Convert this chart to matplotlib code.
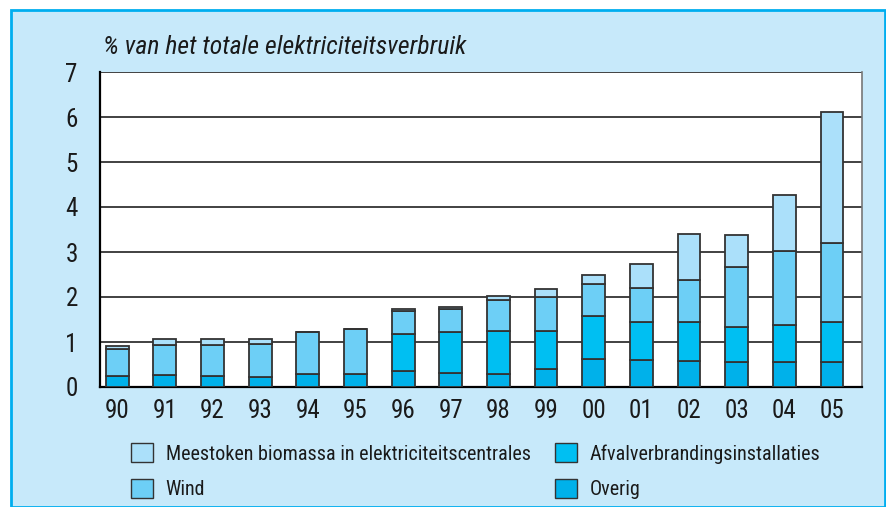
import numpy as np
import matplotlib.pyplot as plt
from matplotlib import font_manager
from matplotlib.patches import Rectangle, Patch

# Aandeel duurzame elektriciteit, % van het totale elektriciteitsverbruik
years = ['90', '91', '92', '93', '94', '95', '96', '97',
         '98', '99', '00', '01', '02', '03', '04', '05']
overig = [0.25, 0.27, 0.25, 0.22, 0.30, 0.30, 0.35, 0.32,
          0.29, 0.40, 0.62, 0.60, 0.58, 0.56, 0.56, 0.56]
afval = [0.00, 0.00, 0.00, 0.00, 0.00, 0.00, 0.83, 0.90,
         0.95, 0.84, 0.95, 0.85, 0.86, 0.77, 0.82, 0.88]
wind = [0.59, 0.67, 0.68, 0.73, 0.92, 1.00, 0.51, 0.51,
        0.70, 0.75, 0.73, 0.74, 0.94, 1.34, 1.65, 1.75]
biomassa = [0.08, 0.12, 0.14, 0.12, 0.00, 0.00, 0.04, 0.04,
            0.09, 0.18, 0.20, 0.54, 1.03, 0.71, 1.24, 2.93]

labels = ['Meestoken biomassa in elektriciteitscentrales', 'Wind',
          'Afvalverbrandingsinstallaties', 'Overig']
colors = {'overig': '#00b1ea', 'afval': '#00bff2',
          'wind': '#6dcff6', 'bio': '#abe0fa'}
bg = '#c7e9fa'

available = {f.name for f in font_manager.fontManager.ttflist}
font = 'DejaVu Sans'
for name in ['Roboto Condensed', 'Liberation Sans Narrow', 'Open Sans Condensed', 'DejaVu Sans Condensed']:
    if name in available:
        font = name
        break
plt.rcParams['font.family'] = [font, 'DejaVu Sans']

fig = plt.figure(figsize=(8.87, 5.07), dpi=100)
fig.patch.set_facecolor('white')
# lichtblauw paneel met blauwe rand
fig.add_artist(Rectangle((11 / 887, 0), 874 / 887, 497 / 507, transform=fig.transFigure,
                         facecolor=bg, edgecolor='#00aeef', lw=2, zorder=0))

ax = fig.add_axes([100 / 887, 120 / 507, 762 / 887, 315 / 507])
ax.set_facecolor('white')

x = np.arange(len(years))
w = 0.48
b1 = np.array(overig)
b2 = b1 + np.array(afval)
b3 = b2 + np.array(wind)
kw = dict(width=w, edgecolor='#333333', linewidth=1.3, zorder=3)
ax.bar(x, overig, color=colors['overig'], **kw)
ax.bar(x, afval, bottom=b1, color=colors['afval'], **kw)
ax.bar(x, wind, bottom=b2, color=colors['wind'], **kw)
ax.bar(x, biomassa, bottom=b3, color=colors['bio'], **kw)

ax.set_xlim(-0.36, 15.63)
ax.set_ylim(0, 7)
ax.set_yticks(range(0, 8))
ax.set_xticks(x)
ax.set_xticklabels(years)
ax.tick_params(length=0, labelsize=18, colors='#1a1a1a')
ax.tick_params(axis='y', pad=16)
ax.tick_params(axis='x', pad=9)
ax.yaxis.grid(True, color='#333333', lw=1.3, zorder=0)
ax.set_axisbelow(True)
ax.spines['top'].set_visible(False)
ax.spines['left'].set_linewidth(1.6)
ax.spines['bottom'].set_linewidth(1.6)
ax.spines['right'].set_color('#777777')
ax.spines['right'].set_linewidth(1.2)

fig.text(103 / 887, 1 - 47 / 507, '% van het totale elektriciteitsverbruik',
         fontsize=18.5, style='italic', va='center', ha='left', color='#1a1a1a')

handles = [Patch(facecolor=colors['bio'], edgecolor='#333333', lw=1),
           Patch(facecolor=colors['wind'], edgecolor='#333333', lw=1),
           Patch(facecolor=colors['afval'], edgecolor='#333333', lw=1),
           Patch(facecolor=colors['overig'], edgecolor='#333333', lw=1)]
fig.legend(handles, labels, ncol=2, loc='upper left',
           bbox_to_anchor=(113 / 887, 1 - 425 / 507), frameon=False,
           fontsize=14.5, handlelength=1.1, handleheight=1.1, handletextpad=0.62,
           columnspacing=1.2, labelspacing=0.75, labelcolor='#1a1a1a')

fig.savefig('out.png', dpi=100, facecolor=fig.get_facecolor())
